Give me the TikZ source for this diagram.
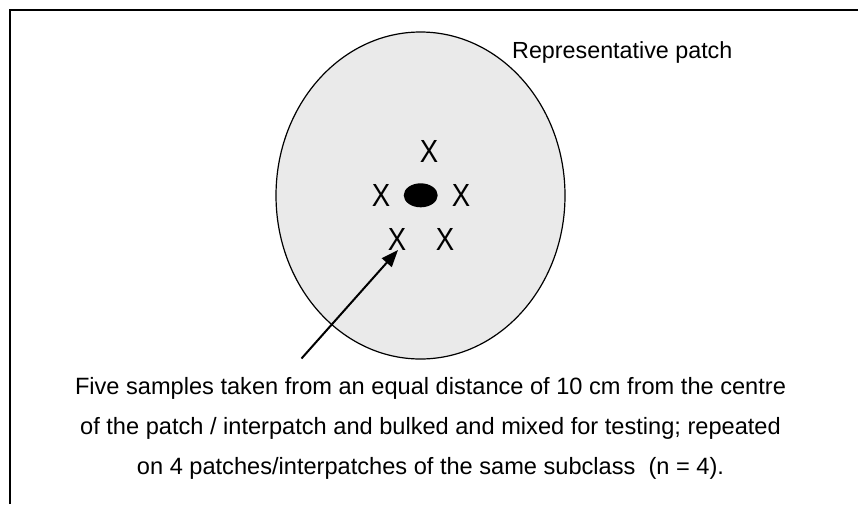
\documentclass[tikz,border=0pt]{standalone}
\usepackage{fontspec}
\setmainfont{Liberation Sans}
\usetikzlibrary{shapes.geometric,arrows.meta}
\definecolor{patchgray}{RGB}{234,234,234}
\tikzset{
  txt/.style={font=\fontsize{23.6}{23.6}\selectfont, inner sep=0pt, anchor=base},
  xmark/.style={font=\fontsize{32}{32}\selectfont, inner sep=0pt},
  frameline/.style={line width=2pt},
}
\newcommand{\xm}{\scalebox{0.86}[1]{X}}
\begin{document}
\begin{tikzpicture}[x=1pt,y=-1pt]
\useasboundingbox (0,0) rectangle (858,504);
% frame (top and left edges)
\coordinate (fbl) at (10,504);
\coordinate (ftl) at (10,10);
\coordinate (ftr) at (858,10);
\draw[frameline] (fbl) -- (ftl) -- (ftr);
% patch
\node (patch) [ellipse, draw, line width=1.2pt, fill=patchgray, minimum width=289pt, minimum height=327pt, inner sep=0pt, outer sep=0pt] at (420.5,195.5) {};
% centre
\node (centre) [ellipse, fill=black, minimum width=34pt, minimum height=24pt, inner sep=0pt] at (420.7,195.3) {};
% sample marks
\node (x1) [xmark] at (429,151.5) {\xm};
\node (x2) [xmark] at (381,195) {\xm};
\node (x3) [xmark] at (461,195) {\xm};
\node (x4) [xmark] at (397,239) {\xm};
\node (x5) [xmark] at (445,239) {\xm};
% arrow
\coordinate (tail) at (301.5,358.5);
\coordinate (tip) at (398,250);
\draw[line width=2pt, -{Triangle[length=17pt,width=13pt]}] (tail) -- (tip);
% labels
\node (rep) [txt, font=\fontsize{23.3}{23.3}\selectfont, anchor=base west] at (512,58.5) {Representative patch};
\node (l1) [txt] at (430.5,394) {Five samples taken from an equal distance of 10 cm from the centre};
\node (l2) [txt] at (430.5,434) {of the patch / interpatch and bulked and mixed for testing; repeated};
\node (l3) [txt] at (430.5,474) {on 4 patches/interpatches of the same subclass\ \ (n = 4).};
\end{tikzpicture}
\end{document}
